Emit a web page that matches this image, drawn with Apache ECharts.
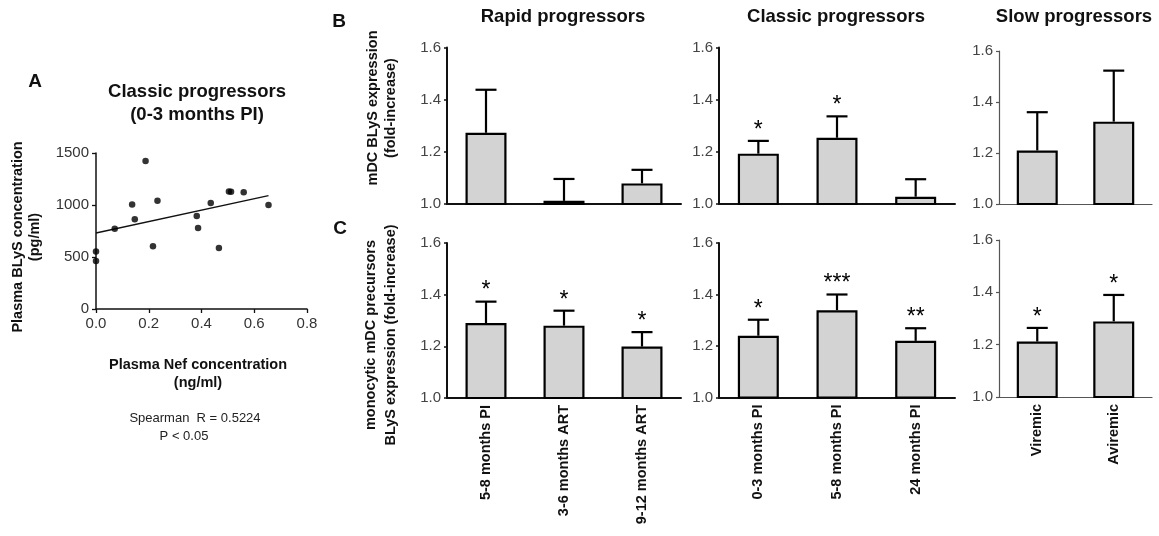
<!DOCTYPE html>
<html>
<head>
<meta charset="utf-8">
<script src="https://cdn.jsdelivr.net/npm/echarts@6/dist/echarts.min.js"></script>
<style>
  html, body { margin: 0; padding: 0; background: #fff; }
  #chart { width: 1159px; height: 536px; }
</style>
</head>
<body>
<div id="chart"></div>
<script>
// ---- Panel A: plasma Nef vs plasma BLyS (classic progressors, 0-3 months PI)
const nefBlys = [
  [0.000, 554], [0.000, 462], [0.071, 772], [0.137, 1006], [0.147, 862],
  [0.188, 1423], [0.216, 603], [0.233, 1042], [0.382, 894], [0.387, 779],
  [0.435, 1019], [0.466, 586], [0.504, 1131], [0.512, 1128], [0.560, 1122],
  [0.654, 1000]
];
const fitLine = [[0.0, 731], [0.654, 1090]];
const scatterXTicks = [0, 0.2, 0.4, 0.6, 0.8];
const scatterYTicks = [0, 500, 1000, 1500];

// ---- Panels B/C: fold-increase of BLyS expression
const rapidCats = ['5-8 months PI', '3-6 months ART', '9-12 months ART'];
const classicCats = ['0-3 months PI', '5-8 months PI', '24 months PI'];
const slowCats = ['Viremic', 'Aviremic'];

// row B: mDC
const rapidB = [1.273, 1.012, 1.079];
const rapidBUpper = [1.438, 1.096, 1.131];
const rapidBStars = ['', '', ''];
const classicB = [1.193, 1.254, 1.028];
const classicBUpper = [1.242, 1.336, 1.095];
const classicBStars = ['*', '*', ''];
const slowB = [1.21, 1.323];
const slowBUpper = [1.36, 1.523];
const slowBStars = ['', ''];

// row C: monocytic mDC precursors
const rapidC = [1.29, 1.28, 1.199];
const rapidCUpper = [1.373, 1.338, 1.255];
const rapidCStars = ['*', '*', '*'];
const classicC = [1.24, 1.339, 1.22];
const classicCUpper = [1.302, 1.40, 1.269];
const classicCStars = ['*', '***', '**'];
const slowC = [1.212, 1.289];
const slowCUpper = [1.264, 1.39];
const slowCStars = ['*', '*'];

const foldTicks = [1.0, 1.2, 1.4, 1.6];

const FONT = "'Liberation Sans', Arial, Helvetica, sans-serif";
const chart = echarts.init(document.getElementById('chart'), null, { renderer: 'canvas' });

// bar panel layout: [left, top, width, height]
const panels = [
  { box: [447, 47.5, 234, 156.5], cats: rapidCats, mean: rapidB, hi: rapidBUpper, stars: rapidBStars, labels: false, thin: false },
  { box: [719, 47.5, 236, 156.5], cats: classicCats, mean: classicB, hi: classicBUpper, stars: classicBStars, labels: false, thin: false },
  { box: [999, 51, 153, 153], cats: slowCats, mean: slowB, hi: slowBUpper, stars: slowBStars, labels: false, thin: true },
  { box: [447, 243, 234, 155], cats: rapidCats, mean: rapidC, hi: rapidCUpper, stars: rapidCStars, labels: true, thin: false },
  { box: [719, 243, 236, 154.5], cats: classicCats, mean: classicC, hi: classicCUpper, stars: classicCStars, labels: true, thin: false },
  { box: [999, 240, 153, 157], cats: slowCats, mean: slowC, hi: slowCUpper, stars: slowCStars, labels: true, thin: true }
];

const grids = [{ left: 96, top: 153, width: 211, height: 156 }];
const xAxes = [{
  gridIndex: 0, type: 'value', min: 0, max: 0.8, interval: 0.2,
  axisLine: { lineStyle: { color: '#111', width: 1.5 } },
  axisTick: { show: true, length: 4, lineStyle: { color: '#111', width: 1.3 } },
  splitLine: { show: false },
  axisLabel: { color: '#333', fontFamily: FONT, fontSize: 15, margin: 7,
    formatter: v => scatterXTicks.indexOf(+v.toFixed(1)) >= 0 ? v.toFixed(1) : '' }
}];
const yAxes = [{
  gridIndex: 0, type: 'value', min: 0, max: 1500, interval: 500,
  axisLine: { show: true, lineStyle: { color: '#111', width: 1.5 } },
  axisTick: { show: true, length: 4, lineStyle: { color: '#111', width: 1.3 } },
  splitLine: { show: false },
  axisLabel: { color: '#333', fontFamily: FONT, fontSize: 15, margin: 7,
    formatter: v => scatterYTicks.indexOf(v) >= 0 ? String(v) : '' }
}];
const series = [
  {
    type: 'scatter', xAxisIndex: 0, yAxisIndex: 0, data: nefBlys,
    symbol: 'circle', symbolSize: 6.5, itemStyle: { color: '#000' }, z: 3
  },
  {
    type: 'line', xAxisIndex: 0, yAxisIndex: 0, data: fitLine,
    showSymbol: false, symbol: 'none', lineStyle: { color: '#111', width: 1.4 }, z: 2
  }
];

function errorRenderer(stars) {
  return function (params, api) {
    const i = api.value(0);
    const top = api.coord([i, api.value(1)]);
    const cap = api.coord([i, api.value(2)]);
    const half = 10.5;
    const children = [
      { type: 'line', shape: { x1: top[0], y1: top[1], x2: cap[0], y2: cap[1] },
        style: { stroke: '#000', lineWidth: 2.2 } },
      { type: 'line', shape: { x1: cap[0] - half, y1: cap[1], x2: cap[0] + half, y2: cap[1] },
        style: { stroke: '#000', lineWidth: 2.2 } }
    ];
    const s = stars[params.dataIndex];
    if (s) {
      children.push({
        type: 'text', x: cap[0], y: cap[1] - 10.5,
        style: { text: s, fill: '#000', font: '23px ' + FONT, align: 'center', verticalAlign: 'middle' }
      });
    }
    return { type: 'group', children: children };
  };
}

panels.forEach((p, k) => {
  const g = k + 1;
  const axisColor = p.thin ? '#555' : '#111';
  const axisWidth = p.thin ? 1.2 : 2;
  grids.push({ left: p.box[0], top: p.box[1], width: p.box[2], height: p.box[3] });
  xAxes.push({
    gridIndex: g, type: 'category', data: p.cats, boundaryGap: true,
    axisLine: { lineStyle: { color: axisColor, width: axisWidth } },
    axisTick: { show: false },
    axisLabel: { show: p.labels, rotate: 90, interval: 0, color: '#111', fontFamily: FONT,
      fontSize: 14.5, fontWeight: 'bold', margin: 7 }
  });
  yAxes.push({
    gridIndex: g, type: 'value', min: 1.0, max: 1.6, interval: 0.2,
    axisLine: { show: true, lineStyle: { color: axisColor, width: axisWidth } },
    axisTick: { show: true, length: 3, lineStyle: { color: axisColor, width: p.thin ? 1.2 : 1.5 } },
    splitLine: { show: false },
    axisLabel: { color: '#444', fontFamily: FONT, fontSize: 15, margin: 6,
      formatter: v => foldTicks.some(t => Math.abs(t - v) < 1e-6) ? v.toFixed(1) : '' }
  });
  series.push({
    type: 'bar', xAxisIndex: g, yAxisIndex: g, data: p.mean, barWidth: 41,
    itemStyle: { color: '#d3d3d3', borderColor: '#000', borderWidth: 2.2 },
    clip: true, z: 2, animation: false
  });
  series.push({
    type: 'custom', xAxisIndex: g, yAxisIndex: g,
    data: p.mean.map((m, i) => [i, m, p.hi[i]]),
    renderItem: errorRenderer(p.stars), z: 3, clip: false, animation: false
  });
});

function txt(x, y, text, opts) {
  return Object.assign({
    type: 'text', x: x, y: y, silent: true,
    style: Object.assign({ text: text, fill: '#111', align: 'center', verticalAlign: 'middle',
      font: 'bold 14.5px ' + FONT }, opts.style || {})
  }, opts.rotation ? { rotation: opts.rotation } : {});
}

const graphics = [
  // panel letters
  txt(35, 82, 'A', { style: { font: 'bold 19px ' + FONT } }),
  txt(339, 22, 'B', { style: { font: 'bold 19px ' + FONT } }),
  txt(340, 229, 'C', { style: { font: 'bold 19px ' + FONT } }),
  // panel A texts
  txt(197, 103, 'Classic progressors\n(0-3 months PI)', { style: { font: 'bold 18.5px ' + FONT, lineHeight: 23 } }),
  txt(26, 237, 'Plasma BLyS concentration\n(pg/ml)', { rotation: Math.PI / 2, style: { lineHeight: 17 } }),
  txt(198, 374, 'Plasma Nef concentration\n(ng/ml)', { style: { lineHeight: 18 } }),
  txt(195, 418, 'Spearman  R = 0.5224', { style: { font: "13px 'Liberation Sans Narrow', 'Arial Narrow', " + FONT, fill: '#222' } }),
  txt(184, 436, 'P < 0.05', { style: { font: "13px 'Liberation Sans Narrow', 'Arial Narrow', " + FONT, fill: '#222' } }),
  // group titles
  txt(563, 17, 'Rapid progressors', { style: { font: 'bold 18.5px ' + FONT } }),
  txt(836, 17, 'Classic progressors', { style: { font: 'bold 18.5px ' + FONT } }),
  txt(1074, 17, 'Slow progressors', { style: { font: 'bold 18.5px ' + FONT } }),
  // row axis titles
  txt(382, 108, 'mDC BLyS expression\n(fold-increase)', { rotation: Math.PI / 2, style: { lineHeight: 18 } }),
  txt(381, 335, 'monocytic mDC precursors\nBLyS expression (fold-increase)', { rotation: Math.PI / 2, style: { lineHeight: 20 } })
];

chart.setOption({
  animation: false,
  backgroundColor: '#fff',
  textStyle: { fontFamily: FONT },
  grid: grids,
  xAxis: xAxes,
  yAxis: yAxes,
  series: series,
  graphic: graphics
});
</script>
</body>
</html>
